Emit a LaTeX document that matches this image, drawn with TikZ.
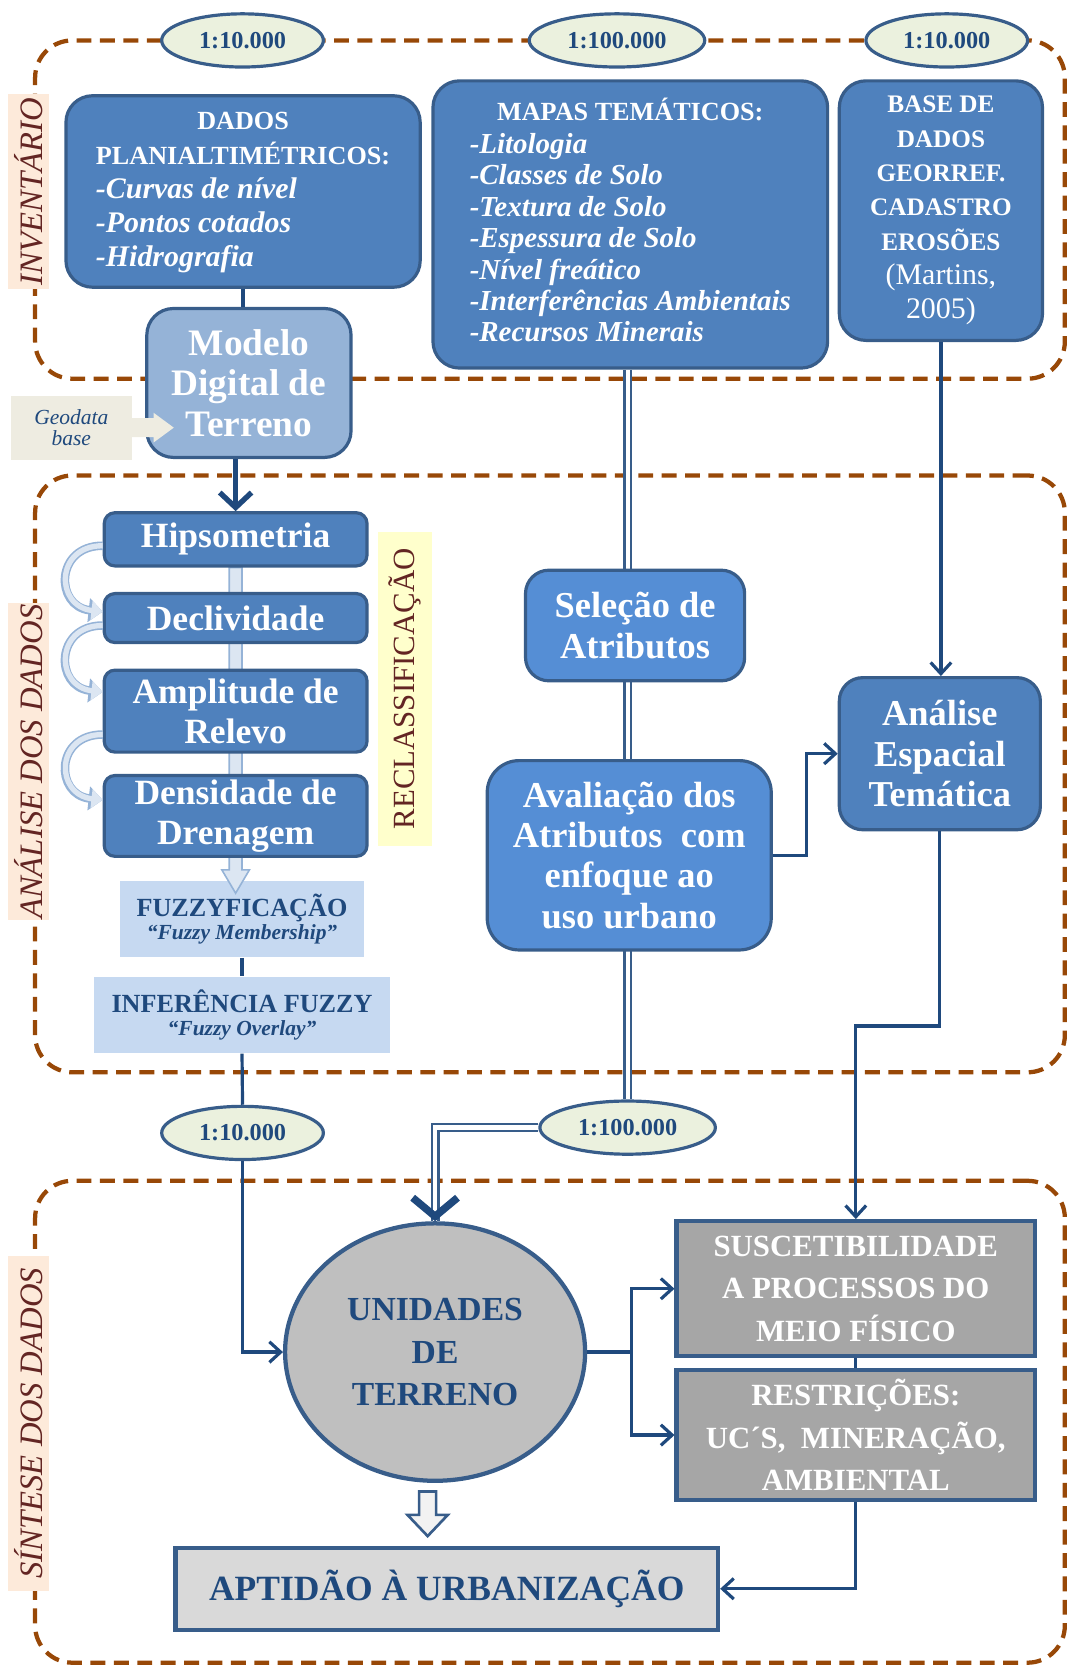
\documentclass[tikz,border=0pt]{standalone}
\usepackage{fontspec}
\setmainfont{Liberation Serif}
\usepackage{tikz}
\usetikzlibrary{positioning,arrows.meta,shapes.geometric,calc,backgrounds}

\definecolor{boxblue}{HTML}{4F81BD}
\definecolor{boxline}{HTML}{385D8A}
\definecolor{lightblue}{HTML}{558ED5}
\definecolor{paleblue}{HTML}{95B3D7}
\definecolor{fuzzblue}{HTML}{C6D9F1}
\definecolor{linkblue}{HTML}{1F497D}
\definecolor{phasebrown}{HTML}{984807}
\definecolor{tagbg}{HTML}{FDEADA}
\definecolor{tagtext}{HTML}{632523}
\definecolor{scalebg}{HTML}{EBF1DE}
\definecolor{geobg}{HTML}{EEECE1}
\definecolor{recbg}{HTML}{FFFFCC}
\definecolor{unitgray}{HTML}{BFBFBF}
\definecolor{resgray}{HTML}{A6A6A6}
\definecolor{aptgray}{HTML}{D9D9D9}
\definecolor{flowfill}{HTML}{DCE6F2}

\newlength{\px}\setlength{\px}{0.02cm}
\newcommand{\fsz}[2]{\fontsize{#1}{#2}\selectfont}
\newcommand{\itemline}[2]{\fsz{#1}{15}\itshape -#2}

\tikzset{
	every node/.style={inner sep=0pt, align=center},
	>=latex,
	phase/.style={draw=phasebrown, line width=4\px, dash pattern=on 14\px off 8\px, rounded corners=35\px},
	phasetag/.style={fill=tagbg, text=tagtext, rotate=90, minimum height=39\px, font=\fsz{17.5}{20}\itshape},
	scalebadge/.style={ellipse, draw=boxline, fill=scalebg, line width=3\px, minimum width=152\px, minimum height=50\px, text=linkblue, font=\fsz{13}{15}\bfseries},
	databox/.style={draw=boxline, fill=boxblue, line width=3\px, rounded corners=25\px, text=white, font=\bfseries},
	stepbox/.style={draw=boxline, fill=boxblue, line width=3\px, rounded corners=10\px, text=white, minimum width=247\px, font=\fsz{19}{21.5}\bfseries},
	attrbox/.style={draw=boxline, fill=lightblue, line width=3\px, rounded corners=22\px, text=white, font=\fsz{19.5}{21.5}\bfseries},
	fuzzbox/.style={fill=fuzzblue, text=linkblue},
	resultbox/.style={draw=boxline, fill=resgray, line width=4\px, text=white, minimum width=337\px, font=\fsz{16.5}{22.7}\bfseries},
	link/.style={draw=linkblue, line width=3\px},
	linkarr/.style={link, -{Straight Barb[length=6pt, width=11pt]}},
	heavyarr/.style={draw=linkblue, line width=5\px, -{Straight Barb[length=8pt, width=17pt]}},
	dbllink/.style={draw=boxline, line width=2.2\px, double=white, double distance=4\px},
	flowarrow/.style={fill=flowfill, draw=paleblue, line width=1.5\px},
	bendarr/.style={draw=flowfill, line width=5\px, -{Triangle[length=6pt, width=10pt]},
		preaction={draw=paleblue, line width=8\px, -{Triangle[length=7.5pt, width=12.5pt]}}}
}

\begin{document}
\begin{tikzpicture}[x=0.02cm, y=-0.02cm]
	\useasboundingbox (0,0) rectangle (1003,1568);
	
	% inventario
	\node[databox, minimum width=333\px, minimum height=180\px, font=\fsz{14}{18.3}\bfseries] (dados) at (228.5,180)
		{\begin{tabular}{@{}l@{}}\multicolumn{1}{c}{DADOS}\\PLANIALTIMÉTRICOS:\\\itemline{16}{Curvas de nível}\\\itemline{16}{Pontos cotados}\\\itemline{16}{Hidrografia}\end{tabular}};
	\node[databox, minimum width=371\px, minimum height=270\px, font=\fsz{14}{16.8}\bfseries] (mapas) at (592.5,211)
		{\begin{tabular}{@{}l@{}}\multicolumn{1}{c}{MAPAS TEMÁTICOS:}\\[1pt]\itemline{15.5}{Litologia}\\\itemline{15.5}{Classes de Solo}\\\itemline{15.5}{Textura de Solo}\\\itemline{15.5}{Espessura de Solo}\\\itemline{15.5}{Nível freático}\\\itemline{15.5}{Interferências Ambientais}\\\itemline{15.5}{Recursos Minerais}\end{tabular}};
	\node[databox, minimum width=191\px, minimum height=244\px, font=\fsz{13.5}{18.4}\bfseries] (base) at (884.5,198)
		{BASE DE\\DADOS\\GEORREF.\\CADASTRO\\EROSÕES\\{\fsz{16}{18.4}\mdseries (Martins,}\\{\fsz{16}{18.4}\mdseries 2005)}};
	\node[databox, fill=paleblue, minimum width=192\px, minimum height=140\px, font=\fsz{20}{21.8}\bfseries] (modelo) at (234,360)
		{Modelo\\Digital de\\Terreno};
	\node[fill=geobg, text=linkblue, minimum width=114\px, minimum height=60\px, font=\fsz{11.5}{11.3}\itshape] (geo) at (67,402) {Geodata\\base};
	
	% analise
	\node[stepbox, minimum height=50\px] (hips) at (221.5,507) {Hipsometria};
	\node[stepbox, minimum height=46\px] (decl) at (221.5,581) {Declividade};
	\node[stepbox, minimum height=77\px] (ampl) at (221.5,668.5) {Amplitude de\\Relevo};
	\node[stepbox, minimum height=76\px] (dens) at (221.5,767) {Densidade de\\Drenagem};
	\node[fill=recbg, text=tagtext, rotate=90, minimum width=295\px, minimum height=51\px, font=\fsz{16.5}{18}] (recl) at (380.5,647.5) {RECLASSIFICAÇÃO};
	\node[fuzzbox, minimum width=279\px, minimum height=72\px] (infer) at (227.5,954)
		{{\fsz{14}{18}\bfseries INFERÊNCIA FUZZY}\\{\fsz{11.5}{13}\bfseries\itshape “Fuzzy Overlay”}};
	
	\node[attrbox, minimum width=206\px, minimum height=104\px] (selec) at (597,588) {Seleção de\\Atributos};
	\node[attrbox, rounded corners=30\px, minimum width=267\px, minimum height=178\px] (aval) at (591.5,804)
		{Avaliação dos\\Atributos \ com\\enfoque ao\\uso urbano};
	\node[databox, rounded corners=22\px, minimum width=189\px, minimum height=143\px, font=\fsz{19.5}{21.5}\bfseries] (anal) at (883.5,708.5)
		{Análise\\Espacial\\Temática};
	
	% sintese
	\node[ellipse, draw=boxline, fill=unitgray, line width=4\px, minimum width=282\px, minimum height=242\px, text=linkblue, font=\fsz{18}{22.7}\bfseries] (unid) at (409,1271)
		{UNIDADES\\DE\\TERRENO};
	\node[resultbox, minimum height=127\px] (susc) at (804.5,1211.5) {SUSCETIBILIDADE\\A PROCESSOS DO\\MEIO FÍSICO};
	\node[resultbox, minimum height=122\px] (restr) at (804.5,1349) {RESTRIÇÕES:\\UC´S, \ MINERAÇÃO,\\AMBIENTAL};
	\node[draw=boxline, fill=aptgray, line width=4\px, minimum width=510\px, minimum height=77\px, text=linkblue, font=\fsz{19}{22}\bfseries] (aptid) at (420,1493.5)
		{APTIDÃO À URBANIZAÇÃO};
	
	% scales
	\node[scalebadge] (esctopa) at (228,38) {1:10.000};
	\node[scalebadge, minimum width=165\px] (esctopb) at (580,38) {1:100.000};
	\node[scalebadge] (esctopc) at (890,38) {1:10.000};
	\node[scalebadge] (esclowa) at (228,1065) {1:10.000};
	\node[scalebadge, minimum width=165\px] (esclowb) at (590,1060) {1:100.000};
	
	\begin{pgfonlayer}{background}
		\node[phase, minimum width=968\px, minimum height=318\px] (inv) at (517,197) {};
		\node[phase, minimum width=968\px, minimum height=561\px] (ana) at (517,727.5) {};
		\node[phase, minimum width=968\px, minimum height=453\px] (sin) at (517,1336.5) {};
		\draw[dbllink] (mapas.south -| esclowb.north) -- (esclowb.north);
		\node[fuzzbox, minimum width=229\px, minimum height=72\px] (fuzz) at (227.5,864)
			{{\fsz{14}{18}\bfseries FUZZYFICAÇÃO}\\{\fsz{11.5}{13}\bfseries\itshape “Fuzzy Membership”}};
		\filldraw[flowarrow] ($(hips.south)+(-6,0)$) -- ($(hips.south |- fuzz.north)+(-6,-10)$) -- ++(-7,0)
			-- ($(hips.south |- fuzz.north)+(0,12)$) -- ($(hips.south |- fuzz.north)+(13,-10)$) -- ++(-7,0)
			-- ($(hips.south)+(6,0)$) -- cycle;
	\end{pgfonlayer}
	
	\node[phasetag, minimum width=184\px] (invtag) at (27,180) {INVENTÁRIO};
	\node[phasetag, minimum width=298\px] (anatag) at (27,716) {ANÁLISE DOS DADOS};
	\node[phasetag, minimum width=315\px] (sintag) at (27,1338) {SÍNTESE DOS DADOS};
	
	% connectors
	\draw[link] (dados.south) -- (dados.south |- modelo.north);
	\draw[heavyarr] (modelo.south -| hips.north) -- (hips.north);
	\fill[geobg] ($(geo.east)+(-1,-9)$) -- ($(geo.east)+(20,-9)$) -- ($(geo.east)+(20,-14)$) -- ($(geo.east)+(39,0)$)
		-- ($(geo.east)+(20,14)$) -- ($(geo.east)+(20,9)$) -- ($(geo.east)+(-1,9)$) -- cycle;
	
	\draw[bendarr] ($(hips.west)+(0,6)$) .. controls +(-45,0) and +(-45,-5) .. ($(decl.west)+(0,-6)$);
	\draw[bendarr] ($(decl.west)+(0,7)$) .. controls +(-45,0) and +(-45,-5) .. ($(ampl.west)+(0,-18)$);
	\draw[bendarr] ($(ampl.west)+(0,22)$) .. controls +(-45,0) and +(-45,-5) .. ($(dens.west)+(0,-15)$);
	
	\draw[link] (fuzz.south) -- (infer.north);
	\draw[link] (infer.south) -- (esclowa.north);
	\draw[linkarr] (esclowa.south) |- (unid.west);
	
	\draw[linkarr] (base.south) -- (base.south |- anal.north);
	\draw[linkarr] (aval.east) -- ++(32,0) |- (anal.west);
	\draw[linkarr] (anal.south) -- ++(0,183) -| (susc.north);
	
	\draw[dbllink] (esclowb.west) -| (unid.north);
	\draw[draw=linkblue, line width=7\px, -{Straight Barb[length=10pt, width=24pt]}] ($(unid.north)+(0,-2)$) -- (unid.north);
	
	\draw[linkarr] (unid.east) -- ++(42,0) |- (susc.west);
	\draw[linkarr] (unid.east) -- ++(42,0) |- (restr.west);
	\draw[link] (susc.south) -- (restr.north);
	\draw[linkarr] (restr.south) |- (aptid.east);
	
	\coordinate (drop) at ($(unid.south)+(-7,8)$);
	\filldraw[fill=black!5, draw=boxline, line width=2.5\px] ($(drop)+(-8,0)$) -- ++(0,22) -- ++(-11,0) -- ++(19,20)
		-- ++(19,-20) -- ++(-11,0) -- ++(0,-22) -- cycle;
\end{tikzpicture}
\end{document}
